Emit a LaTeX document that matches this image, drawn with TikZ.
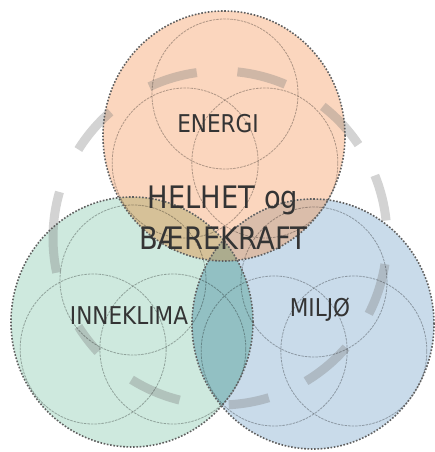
\documentclass[tikz,border=0pt]{standalone}
\usepackage{fontspec}
\usepackage{tikz}
\usetikzlibrary{positioning}
\newfontfamily\lblfont[FakeStretch=0.88]{DejaVu Sans}
\definecolor{peach}{RGB}{251,214,190}
\definecolor{mint}{RGB}{206,233,222}
\definecolor{skyblue}{RGB}{201,219,234}
\definecolor{lensOG}{RGB}{214,193,152}
\definecolor{lensOB}{RGB}{218,189,170}
\definecolor{lensGB}{RGB}{146,192,195}
\definecolor{lensAll}{RGB}{172,172,142}
\definecolor{ringgray}{RGB}{120,120,120}
\definecolor{dotgray}{RGB}{95,95,95}
\definecolor{textgray}{RGB}{52,52,52}

\begin{document}
\begin{tikzpicture}[
    x=1pt, y=1pt,
    bigshape/.style={x radius=121, y radius=125},
    smallshape/.style={x radius=73, y radius=75},
    bigborder/.style={draw=dotgray, line width=1.6pt, dash pattern=on 1.6pt off 1.7pt},
    smallcirc/.style={draw=black, draw opacity=0.3, line width=0.8pt, dash pattern=on 2.5pt off 1pt},
    ringdash/.style={draw=ringgray, draw opacity=0.33, line width=9pt},
    lbl/.style={inner sep=0pt, text=textgray, font=\lblfont\fontsize{24.5}{29}\selectfont}
]
\useasboundingbox (0,0) rectangle (435,452);

\coordinate (energi) at (224,316);
\coordinate (inneklima) at (132,130);
\coordinate (miljo) at (313,128);
\coordinate (ring) at (220,214);

\fill[peach] (energi) ellipse [bigshape];
\fill[mint] (inneklima) ellipse [bigshape];
\fill[skyblue] (miljo) ellipse [bigshape];

\begin{scope}
  \clip (inneklima) ellipse [bigshape];
  \fill[lensGB] (miljo) ellipse [bigshape];
\end{scope}
\begin{scope}
  \clip (energi) ellipse [bigshape];
  \fill[lensOG] (inneklima) ellipse [bigshape];
  \fill[lensOB] (miljo) ellipse [bigshape];
  \clip (inneklima) ellipse [bigshape];
  \fill[lensAll] (miljo) ellipse [bigshape];
\end{scope}

\foreach \s/\e in {115/98, 84/67, 52/34, 22/6, -9/-27, -41/-59, -73/-87,
                   -104/-122, -137/-148, 192/164, 148/131}
  \draw[ringdash] (ring) ++(\s:167) arc [start angle=\s, end angle=\e, radius=167];

\foreach \c in {energi,inneklima,miljo}
  \foreach \a in {90,210,330}
    \draw[smallcirc] (\c) ++(1,-4) ++(\a:46) ellipse [smallshape];

\foreach \c in {energi,inneklima,miljo}
  \draw[bigborder] (\c) ellipse [bigshape];

\node[lbl] (energi-lbl) at (218,328) {ENERGI};
\node[lbl, anchor=base, align=center, font=\lblfont\fontsize{31}{41}\selectfont]
  (helhet) at (223,202) {HELHET og\\BÆREKRAFT};
\node[lbl] (inneklima-lbl) at (129,136) {INNEKLIMA};
\node[lbl] (miljo-lbl) at (320,142) {MILJØ};

\end{tikzpicture}
\end{document}
